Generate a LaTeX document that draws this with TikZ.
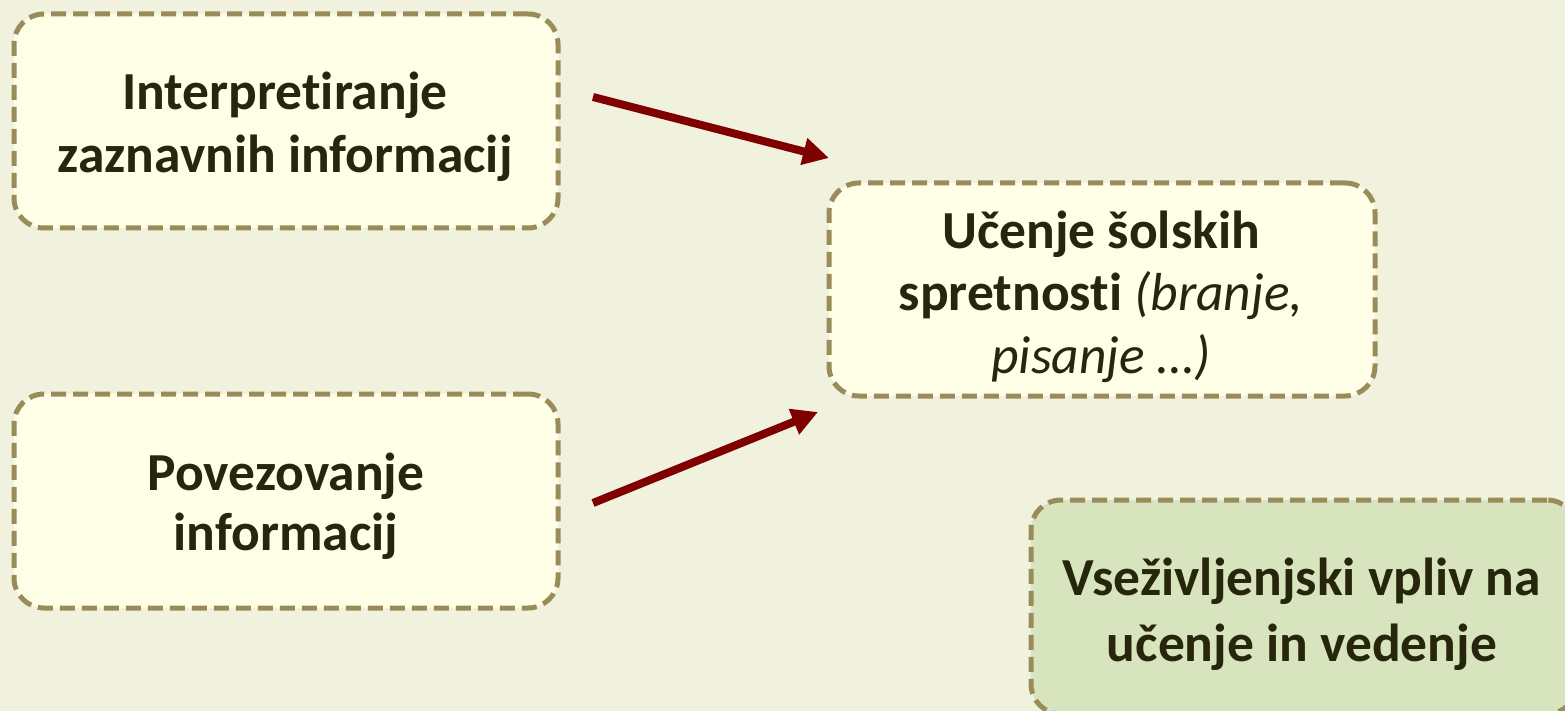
\documentclass[tikz,border=0pt]{standalone}
\usepackage{fontspec}
\setmainfont{Carlito}[Ligatures={NoCommon}]
\usetikzlibrary{arrows.meta}
\definecolor{bg}{HTML}{F0F2DE}
\definecolor{boxfill}{HTML}{FFFFE8}
\definecolor{greenfill}{HTML}{D8E4BE}
\definecolor{border}{HTML}{9A8C5A}
\definecolor{txt}{HTML}{26260C}
\definecolor{arrowc}{HTML}{7F0000}
\setlength{\tabcolsep}{0pt}
\newcommand{\lines}[2]{\fontsize{53.5}{#1}\selectfont\bfseries\begin{tabular}[t]{c}#2\end{tabular}}
\tikzset{
  box/.style={draw=border, fill=boxfill, line width=5pt, dash pattern=on 15pt off 7pt,
    rounded corners=30pt, inner sep=0pt},
  label text/.style={text=txt, inner sep=0pt, anchor=base},
  conn/.style={draw=arrowc, line width=8pt, -{Triangle[length=26pt,width=26pt]}}
}
\begin{document}
\begin{tikzpicture}[x=1pt,y=-1pt]
\fill[bg] (0,0) rectangle (1565,711);
\useasboundingbox (0,0) rectangle (1565,711);
\node[box, minimum width=544pt, minimum height=214pt] (b1) at (286,121) {};
\node[box, minimum width=544pt, minimum height=214pt] (b2) at (286,501) {};
\node[box, minimum width=546pt, minimum height=213pt] (b3) at (1102,289.5) {};
\node[box, fill=greenfill, minimum width=546pt, minimum height=214pt] (b4) at (1304,607) {};
\node[label text] (t1) at (285,110) {\lines{63}{Interpretiranje\\zaznavnih informacij}};
\node[label text] (t2) at (286,490) {\lines{60}{Povezovanje\\informacij}};
\node[label text] (t3) at (1101,249) {\lines{62}{Učenje šolskih\\spretnosti {\mdseries\itshape (branje,}\\{\mdseries\itshape pisanje …)}}};
\node[label text] (t4) at (1302,595) {\lines{66}{Vseživljenjski vpliv na\\učenje in vedenje}};
\coordinate (a1s) at (593,97);
\coordinate (a1e) at (829,158);
\coordinate (a2s) at (593,503);
\coordinate (a2e) at (818,412);
\draw[conn] (a1s) -- (a1e);
\draw[conn] (a2s) -- (a2e);
\end{tikzpicture}
\end{document}
